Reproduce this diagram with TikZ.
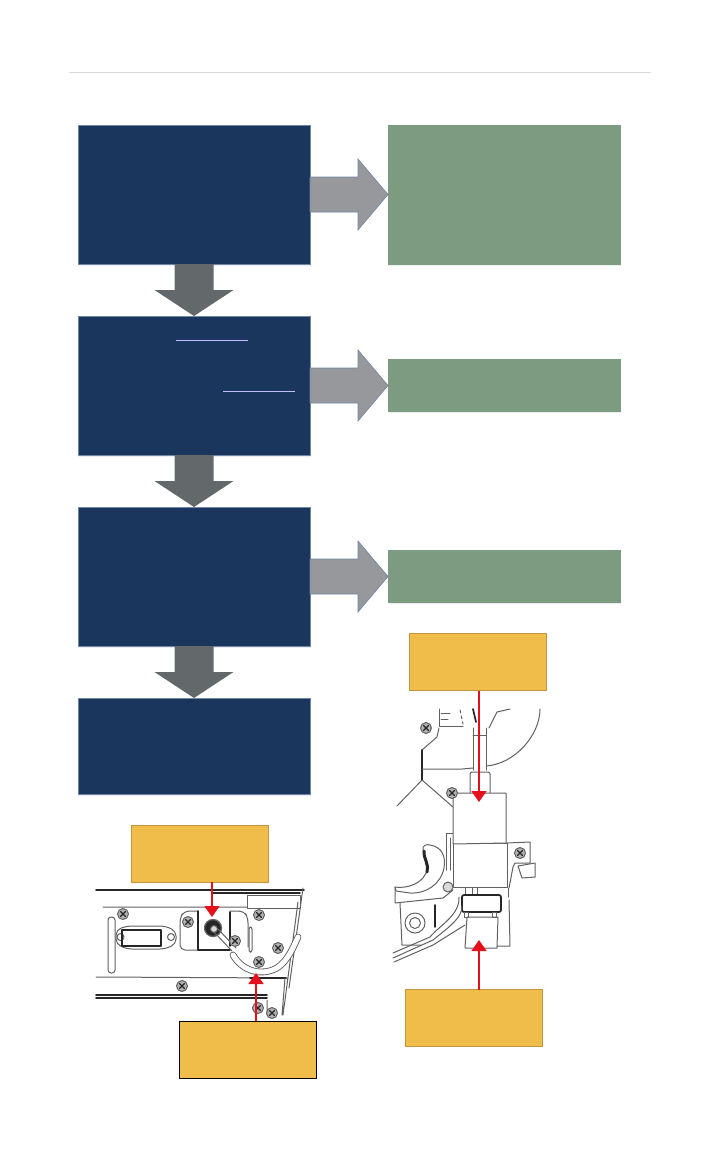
\documentclass[tikz,border=0pt]{standalone}
\usepackage{amsmath}
\usetikzlibrary{arrows.meta, positioning, shadows}
\definecolor{navy}{HTML}{1B365D}
\definecolor{sage}{HTML}{7D9B80}
\definecolor{gold}{HTML}{F0BC4A}
\definecolor{edgeblue}{HTML}{6F86A6}
\definecolor{arrowlight}{HTML}{96989B}
\definecolor{arrowdark}{HTML}{63686B}
\definecolor{pointer}{HTML}{E5101C}

\begin{document}
\begin{tikzpicture}[
  x=1pt, y=-1pt,
  box/.style={minimum width=232pt, inner sep=0pt, outer sep=0pt, draw=edgeblue, line width=0.4pt,
    drop shadow={shadow xshift=0.5pt, shadow yshift=-1.5pt, fill=blue!30!gray, opacity=.12}},
  stepbox/.style={box, fill=navy},
  resultbox/.style={box, fill=sage, draw=sage},
  callout/.style={minimum width=137.5pt, minimum height=57pt, inner sep=0pt, outer sep=0pt, fill=gold, draw=gold!80!black, line width=0.4pt},
  flowright/.style={draw=edgeblue, fill=arrowlight, line width=0.6pt, to path={
    ([yshift=17.5pt]\tikztostart.east) -- ++(48,0) -- ++(0,-18) -- (\tikztotarget.west)
    -- ([xshift=-30pt,yshift=-35.5pt]\tikztotarget.west) -- ++(0,-18) -- ([yshift=-17.5pt]\tikztostart.east) -- cycle}},
  flowdown/.style={draw=none, fill=arrowdark, to path={
    ([xshift=-19.5pt]\tikztostart.south) -- ++(0,26) -- ++(-20,0) -- (\tikztotarget.north)
    -- ([xshift=39.5pt,yshift=26pt]\tikztotarget.north) -- ++(-20,0) -- ([xshift=19.5pt]\tikztostart.south) -- cycle}},
  redarrow/.style={draw=pointer, line width=1.5pt, -{Triangle[length=11pt, width=15pt]}},
  art/.style={draw=black!62, line width=1pt, line cap=round, line join=round},
  heavy/.style={art, draw=black!85, line width=1.7pt},
  screw/.pic={
    \draw[art, fill=black!30] (0,0) circle[radius=5.5];
    \draw[art, draw=black!85, line width=1.3pt] (-2.5,-2.5) -- (2.5,2.5) (-2.5,2.5) -- (2.5,-2.5);
  }]
\useasboundingbox (0,0) rectangle (720,1152);
\draw[black!15, line width=0.8pt] (69,72) -- (651,72);

\node[stepbox, minimum height=139pt] (step1) at (194,194.5) {};
\node[stepbox, minimum height=139pt, below=52pt of step1] (step2) {};
\node[stepbox, minimum height=139pt, below=52pt of step2] (step3) {};
\node[stepbox, minimum height=96pt, below=52pt of step3] (step4) {};
\node[resultbox, minimum height=139pt, right=78pt of step1] (result1) {};
\node[resultbox, minimum height=52pt, right=78pt of step2] (result2) {};
\node[resultbox, minimum height=52pt, right=78pt of step3] (result3) {};
\draw[flowdown] (step1) to (step2);
\draw[flowdown] (step2) to (step3);
\draw[flowdown] (step3) to (step4);
\draw[flowright] (step1) to (result1);
\draw[flowright] (step2) to (result2);
\draw[flowright] (step3) to (result3);
\draw[blue!25!white, line width=0.7pt] (176,340) -- (248,340) (223,391) -- (295,391);

% panel with hose
\draw[heavy] (96,890) -- (304,890) (212,893) -- (300,893) (96,995) -- (267,995) (96,998) -- (267,998);
\draw[art] (103,907) -- (247,907) (96,977) -- (288,978);
\draw[heavy] (250,978) -- (286,978);
\draw[art, fill=white] (247,895) rectangle (300,908);
\draw[art] (303,888) -- (289,988) (298,902) -- (283,1015) (285,978) -- (282,1015) (267,1000) -- (267,1015);
\draw[art, rounded corners=3pt] (108,917) rectangle (115,973);
\draw[art, rounded corners=5pt] (116,930) -- (127,926) -- (165,926) -- (176,931) -- (176,944) -- (165,949) -- (127,949) -- (116,944) -- cycle;
\draw[art] (120.5,937) circle[radius=3.5] (171,937) circle[radius=3.5];
\draw[heavy] (122,930) rectangle (161,946);
\draw[art, rounded corners=5pt] (198,911) -- (184,911) -- (180,918) -- (180,950) -- (198,950);
\draw[art, rounded corners=5pt] (230,911) -- (244,911) -- (248,918) -- (248,947);
\draw[heavy] (198,911) -- (198,950) (230,912) -- (230,946) (198,950) -- (230,950);
\draw[art, rounded corners=2pt] (249,927) rectangle (252,952);
\draw[art, draw=black!60, line width=1.3pt, fill=black!85] (213,928) circle[radius=8.5];
\draw[art, fill=black!15] (214,929) circle[radius=3.5];
\draw[art] (214,932) -- (232,951) (218,929) -- (236,948);
\draw[art, double=white, double distance=5pt, line width=0.9pt] (233,955) .. controls (243,972) and (262,976) .. (277,968) .. controls (288,960) and (292,950) .. (298,937);
\foreach \spot in {(123,914), (188,922), (182,986), (259,915), (278,948), (259,962), (235,941), (258,1008), (272,1013)}
  \pic at \spot {screw};

% valve with clamp
\draw[art] (439,709) -- (439,726) -- (463,726) (441,713) -- (450,713) (441,719) -- (448,719);
\draw[art, dashed] (460,710) -- (463,724);
\draw[art] (439,728) -- (437,737) -- (422,750);
\draw[heavy] (422,750) -- (422,780);
\draw[art] (422,769) -- (462,769) -- (473,768);
\draw[art] (422,780) -- (397,806) (422,780) -- (453,807);
\draw[art] (473,728) -- (473,770) (486,728) -- (486,770) (473,735) -- (486,735);
\draw[heavy] (473,709) -- (476,722);
\draw[art] (489,728) -- (497,712) -- (510,709);
\draw[art] (540,709) .. controls (540,735) and (515,764) .. (486,766);
\draw[art, rounded corners=2pt] (470,793) -- (470,772) -- (490,772) -- (490,793);
\draw[art] (446,870) -- (446,833) -- (454,833) (450,838) -- (450,870);
\draw[art] (507,843) -- (530,842) -- (530,863) -- (515,863) -- (513,867) -- (509,888);
\draw[art] (518,866) -- (535,863) -- (535,877) -- (522,878) -- (518,866);
\draw[art, fill=white] (453,843) rectangle (507,887);
\draw[art, fill=white] (453,793) -- (506,793) -- (506,843) -- (453,844) -- cycle;
\draw[art] (465,888) -- (465,895) (472,888) -- (472,895) (477,888) -- (477,895);
\draw[art] (508,888) -- (508,897);
\draw[heavy, fill=white, rounded corners=2pt] (462,895) rectangle (501,912);
\draw[art] (464,912) rectangle (468,917) (492,912) rectangle (496,917);
\draw[art] (467,917) -- (465,948) -- (497,948) -- (498,917) -- (467,917);
\draw[art] (509,900) -- (510,946) -- (497,946);
\draw[art, fill=white] (423,850) .. controls (422,845) and (427,844) .. (430,845) .. controls (442,847) and (446,856) .. (444,868) .. controls (441,884) and (426,894) .. (410,893) -- (396,891) -- (395,887) .. controls (405,889) and (426,884) .. (427,868) -- cycle;
\draw[heavy, line width=3pt] (424,851) .. controls (423,858) and (429,862) .. (427,872);
\draw[art] (395,887) -- (395,903) -- (443,898) -- (453,890);
\draw[art, fill=black!15] (448,887) circle[radius=5];
\draw[art] (400,903) -- (402,945) -- (421,945);
\draw[heavy] (435,905) -- (435,927);
\draw[art] (415,923) circle[radius=10] (415,923) circle[radius=5.5];
\draw[art] (459,897) .. controls (460,915) and (440,925) .. (430,937) -- (393,953);
\draw[art] (462,906) .. controls (463,918) and (445,930) .. (433,940) -- (393,958);
\draw[art] (465,925) -- (433,945) -- (394,962);
\pic at (426,728) {screw};
\pic at (452,793) {screw};
\pic at (520,853) {screw};

\node[callout, below=31pt of result3, xshift=-26.5pt] (topnote) {};
\node[callout, below=299pt of topnote, xshift=-4pt] (lownote) {};
\node[callout, below=31pt of step4, xshift=5.5pt] (knobnote) {};
\node[callout, draw=black, line width=0.7pt, below=139pt of knobnote, xshift=48.5pt] (hosenote) {};
\coordinate (clamp) at (479,802);
\coordinate (plug) at (479,940);
\coordinate (knob) at (212,917);
\coordinate (hose) at (256,973);
\draw[redarrow] (topnote.south -| clamp) -- (clamp);
\draw[redarrow] (lownote.north -| plug) -- (plug);
\draw[redarrow] (knobnote.south -| knob) -- (knob);
\draw[redarrow] (hosenote.north -| hose) -- (hose);
\end{tikzpicture}
\end{document}
